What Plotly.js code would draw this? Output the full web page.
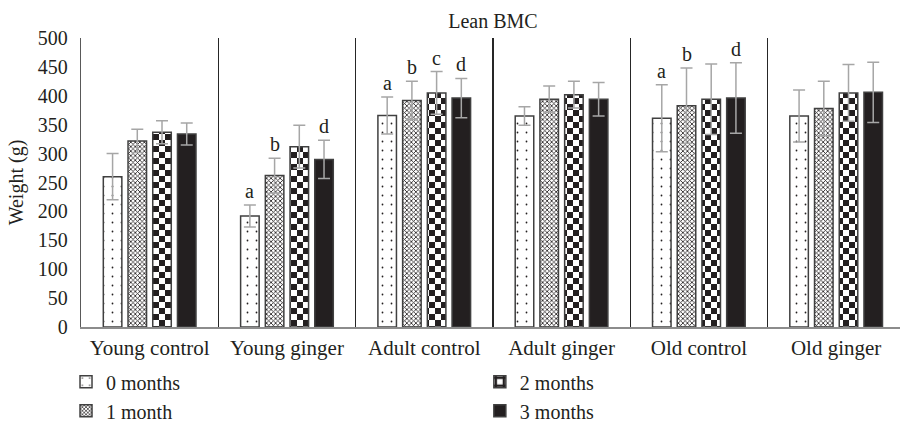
<!DOCTYPE html>
<html>
<head>
<meta charset="utf-8">
<script src="https://cdn.plot.ly/plotly-3.0.1.min.js"></script>
<style>html,body{margin:0;padding:0;background:#fff;}#chart{width:900px;height:424px;}</style>
</head>
<body>
<div id="chart"></div>
<script>
// ---- data ----
const categories = ['Young control', 'Young ginger', 'Adult control', 'Adult ginger', 'Old control', 'Old ginger'];
const seriesNames = ['0 months', '1 month', '2 months', '3 months'];
const m0 = [260, 192, 366, 365, 361, 365];
const m0err = [40, 19, 32, 16, 58, 45];
const m1 = [322, 262, 392, 394, 383, 378];
const m1err = [20, 30, 33, 23, 65, 47];
const m2 = [337, 312, 405, 402, 394, 405];
const m2err = [20, 37, 37, 23, 61, 49];
const m3 = [334, 290, 396, 394, 396, 406];
const m3err = [19, 33, 34, 29, 61, 52];
const m0letters = ['', 'a', 'a', '', 'a', ''];
const m1letters = ['', 'b', 'b', '', 'b', ''];
const m2letters = ['', '', 'c', '', '', ''];
const m3letters = ['', 'd', 'd', '', 'd', ''];

const values = [m0, m1, m2, m3];
const errors = [m0err, m1err, m2err, m3err];
const letters = [m0letters, m1letters, m2letters, m3letters];

// ---- style ----
const FONT = 'Liberation Serif, Times New Roman, serif';
const TXT = '#231f20';
const BARGAP = 0.28;
const patterns = [
  {shape: '.', size: 9, solidity: 0.03, fgcolor: TXT, bgcolor: '#ffffff'},
  {shape: 'x', size: 3.2, solidity: 0.45, fgcolor: TXT, bgcolor: '#ffffff'},
  {shape: '+', size: 12, solidity: 0.5, fgcolor: TXT, bgcolor: '#ffffff'},
  null
];
const legendIds = ['legend', 'legend', 'legend2', 'legend2'];

const data = values.map(function(v, i) {
  const marker = {line: {color: '#404040', width: 1.5}};
  if (patterns[i]) { marker.color = '#ffffff'; marker.pattern = patterns[i]; }
  else { marker.color = TXT; }
  return {
    type: 'bar', name: seriesNames[i], x: categories, y: v,
    legend: legendIds[i],
    marker: marker,
    error_y: {type: 'data', array: errors[i], visible: true, color: '#a6a6a6', thickness: 1.5, width: 6},
    hoverinfo: 'skip'
  };
});

const slot = (1 - BARGAP) / values.length;
const annotations = [];
letters.forEach(function(arr, si) {
  arr.forEach(function(t, gi) {
    if (!t) return;
    annotations.push({
      xref: 'x', yref: 'y',
      x: gi + (si - (values.length - 1) / 2) * slot,
      y: values[si][gi] + errors[si][gi],
      text: t, showarrow: false, yanchor: 'bottom', yshift: 1,
      font: {family: FONT, size: 20, color: TXT}
    });
  });
});

const layout = {
  width: 900, height: 424,
  margin: {l: 81, r: 0, t: 38, b: 97, autoexpand: false},
  paper_bgcolor: '#ffffff', plot_bgcolor: '#ffffff',
  font: {family: FONT, size: 20, color: TXT},
  title: {text: 'Lean BMC', font: {family: FONT, size: 20, color: TXT},
          xref: 'paper', x: 0.503, xanchor: 'center', yref: 'container', y: 0.95, yanchor: 'middle'},
  barmode: 'group', bargap: BARGAP, bargroupgap: 0.25,
  xaxis: {
    type: 'category', range: [-0.5, 5.465], tickson: 'boundaries',
    showgrid: true, gridcolor: '#262626', gridwidth: 1.2,
    showline: true, linecolor: '#8c8c8c', linewidth: 1.5,
    ticks: '', ticklabelstandoff: 1,
    tickfont: {family: FONT, size: 21, color: TXT}, fixedrange: true
  },
  yaxis: {
    range: [0, 500], dtick: 50, showgrid: false, zeroline: false,
    showline: true, linecolor: '#595959', linewidth: 1.3,
    ticks: '', ticklabelstandoff: 8,
    tickfont: {family: FONT, size: 20, color: TXT},
    title: {text: 'Weight (g)', font: {family: FONT, size: 20, color: TXT}, standoff: 8},
    fixedrange: true
  },
  legend: {x: -0.0183, xanchor: 'left', y: -0.122, yanchor: 'top', orientation: 'v',
           font: {family: FONT, size: 20, color: TXT}, bgcolor: 'rgba(0,0,0,0)', traceorder: 'normal'},
  legend2: {x: 0.487, xanchor: 'left', y: -0.122, yanchor: 'top', orientation: 'v',
           font: {family: FONT, size: 20, color: TXT}, bgcolor: 'rgba(0,0,0,0)', traceorder: 'normal'},
  annotations: annotations,
  showlegend: true
};

Plotly.newPlot('chart', data, layout, {displayModeBar: false, staticPlot: true}).then(function() {
  // turn the 12px '+' pattern tiles into a checkerboard texture
  const ns = 'http://www.w3.org/2000/svg';
  document.querySelectorAll('pattern').forEach(function(p) {
    if (Math.abs(parseFloat(p.getAttribute('width')) - 12) > 0.01) return;
    while (p.firstChild) p.removeChild(p.firstChild);
    const bg = document.createElementNS(ns, 'rect');
    bg.setAttribute('width', 12); bg.setAttribute('height', 12); bg.setAttribute('fill', '#ffffff');
    p.appendChild(bg);
    [[0, 0], [6, 6]].forEach(function(o) {
      const r = document.createElementNS(ns, 'rect');
      r.setAttribute('x', o[0]); r.setAttribute('y', o[1]);
      r.setAttribute('width', 6); r.setAttribute('height', 6); r.setAttribute('fill', TXT);
      p.appendChild(r);
    });
  });
});
</script>
</body>
</html>
